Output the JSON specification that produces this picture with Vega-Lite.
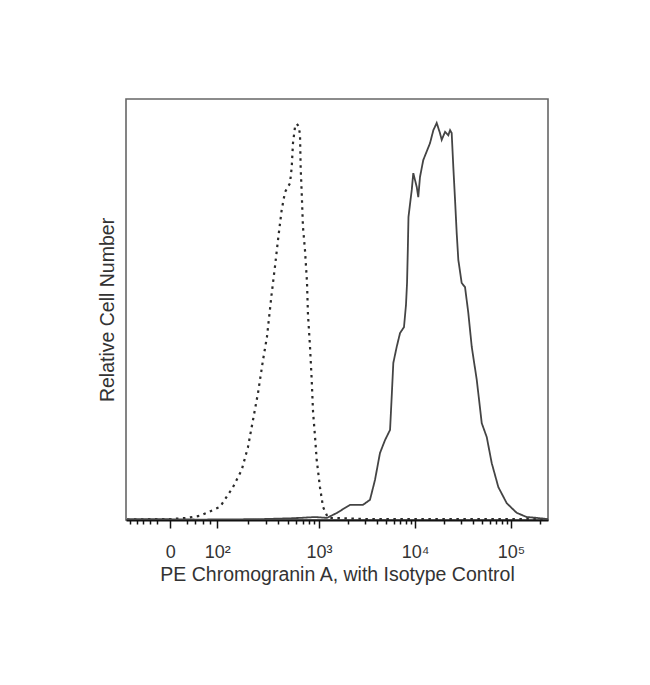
{
  "$schema": "https://vega.github.io/schema/vega-lite/v6.json",
  "autosize": "none",
  "padding": {"left": 126, "top": 99, "right": 102, "bottom": 165},
  "width": 422,
  "height": 421,
  "background": "white",
  "config": {
    "view": {"stroke": "#666", "strokeWidth": 1.6},
    "font": "Liberation Sans"
  },
  "data": {"values": [
    {"series": "Isotype Control", "u": 1.0, "count": 0.1},
    {"series": "Isotype Control", "u": 1.24, "count": 0.2},
    {"series": "Isotype Control", "u": 1.448, "count": 0.2},
    {"series": "Isotype Control", "u": 1.622, "count": 0.5},
    {"series": "Isotype Control", "u": 1.76, "count": 1.0},
    {"series": "Isotype Control", "u": 1.969, "count": 3.1},
    {"series": "Isotype Control", "u": 2.104, "count": 7.8},
    {"series": "Isotype Control", "u": 2.195, "count": 11.9},
    {"series": "Isotype Control", "u": 2.26, "count": 17.3},
    {"series": "Isotype Control", "u": 2.313, "count": 23.8},
    {"series": "Isotype Control", "u": 2.365, "count": 30.2},
    {"series": "Isotype Control", "u": 2.417, "count": 38.0},
    {"series": "Isotype Control", "u": 2.458, "count": 43.5},
    {"series": "Isotype Control", "u": 2.507, "count": 53.7},
    {"series": "Isotype Control", "u": 2.542, "count": 60.3},
    {"series": "Isotype Control", "u": 2.573, "count": 66.5},
    {"series": "Isotype Control", "u": 2.611, "count": 73.6},
    {"series": "Isotype Control", "u": 2.646, "count": 77.9},
    {"series": "Isotype Control", "u": 2.698, "count": 80.0},
    {"series": "Isotype Control", "u": 2.716, "count": 83.8},
    {"series": "Isotype Control", "u": 2.729, "count": 89.5},
    {"series": "Isotype Control", "u": 2.75, "count": 93.3},
    {"series": "Isotype Control", "u": 2.768, "count": 94.1},
    {"series": "Isotype Control", "u": 2.786, "count": 93.6},
    {"series": "Isotype Control", "u": 2.802, "count": 91.7},
    {"series": "Isotype Control", "u": 2.809, "count": 83.8},
    {"series": "Isotype Control", "u": 2.82, "count": 77.7},
    {"series": "Isotype Control", "u": 2.833, "count": 69.6},
    {"series": "Isotype Control", "u": 2.854, "count": 64.1},
    {"series": "Isotype Control", "u": 2.875, "count": 56.5},
    {"series": "Isotype Control", "u": 2.885, "count": 48.9},
    {"series": "Isotype Control", "u": 2.906, "count": 41.3},
    {"series": "Isotype Control", "u": 2.924, "count": 33.3},
    {"series": "Isotype Control", "u": 2.938, "count": 25.7},
    {"series": "Isotype Control", "u": 2.958, "count": 20.0},
    {"series": "Isotype Control", "u": 2.976, "count": 14.3},
    {"series": "Isotype Control", "u": 3.01, "count": 7.8},
    {"series": "Isotype Control", "u": 3.042, "count": 3.1},
    {"series": "Isotype Control", "u": 3.094, "count": 0.5},
    {"series": "Isotype Control", "u": 3.27, "count": 0.4},
    {"series": "Isotype Control", "u": 3.53, "count": 0.2},
    {"series": "Isotype Control", "u": 4.156, "count": 0.2},
    {"series": "Isotype Control", "u": 5.302, "count": 0.2},
    {"series": "Isotype Control", "u": 5.385, "count": 0.1},
    {"series": "Chromogranin A", "u": 1.0, "count": 0.2},
    {"series": "Chromogranin A", "u": 1.344, "count": 0.2},
    {"series": "Chromogranin A", "u": 1.76, "count": 0.1},
    {"series": "Chromogranin A", "u": 2.385, "count": 0.2},
    {"series": "Chromogranin A", "u": 2.698, "count": 0.4},
    {"series": "Chromogranin A", "u": 2.802, "count": 0.5},
    {"series": "Chromogranin A", "u": 2.958, "count": 0.7},
    {"series": "Chromogranin A", "u": 3.083, "count": 0.5},
    {"series": "Chromogranin A", "u": 3.188, "count": 1.7},
    {"series": "Chromogranin A", "u": 3.323, "count": 3.6},
    {"series": "Chromogranin A", "u": 3.458, "count": 3.6},
    {"series": "Chromogranin A", "u": 3.531, "count": 4.8},
    {"series": "Chromogranin A", "u": 3.583, "count": 9.5},
    {"series": "Chromogranin A", "u": 3.635, "count": 15.9},
    {"series": "Chromogranin A", "u": 3.688, "count": 19.0},
    {"series": "Chromogranin A", "u": 3.74, "count": 21.4},
    {"series": "Chromogranin A", "u": 3.757, "count": 29.2},
    {"series": "Chromogranin A", "u": 3.774, "count": 37.3},
    {"series": "Chromogranin A", "u": 3.809, "count": 41.1},
    {"series": "Chromogranin A", "u": 3.844, "count": 44.4},
    {"series": "Chromogranin A", "u": 3.885, "count": 45.8},
    {"series": "Chromogranin A", "u": 3.906, "count": 51.1},
    {"series": "Chromogranin A", "u": 3.917, "count": 56.3},
    {"series": "Chromogranin A", "u": 3.925, "count": 64.1},
    {"series": "Chromogranin A", "u": 3.932, "count": 72.0},
    {"series": "Chromogranin A", "u": 3.966, "count": 78.4},
    {"series": "Chromogranin A", "u": 3.982, "count": 82.4},
    {"series": "Chromogranin A", "u": 4.018, "count": 79.1},
    {"series": "Chromogranin A", "u": 4.034, "count": 76.7},
    {"series": "Chromogranin A", "u": 4.052, "count": 81.5},
    {"series": "Chromogranin A", "u": 4.086, "count": 85.5},
    {"series": "Chromogranin A", "u": 4.156, "count": 89.5},
    {"series": "Chromogranin A", "u": 4.191, "count": 92.6},
    {"series": "Chromogranin A", "u": 4.226, "count": 94.3},
    {"series": "Chromogranin A", "u": 4.26, "count": 91.9},
    {"series": "Chromogranin A", "u": 4.278, "count": 90.3},
    {"series": "Chromogranin A", "u": 4.313, "count": 92.2},
    {"series": "Chromogranin A", "u": 4.347, "count": 91.4},
    {"series": "Chromogranin A", "u": 4.365, "count": 92.6},
    {"series": "Chromogranin A", "u": 4.382, "count": 91.9},
    {"series": "Chromogranin A", "u": 4.399, "count": 83.8},
    {"series": "Chromogranin A", "u": 4.417, "count": 76.0},
    {"series": "Chromogranin A", "u": 4.434, "count": 68.2},
    {"series": "Chromogranin A", "u": 4.451, "count": 61.8},
    {"series": "Chromogranin A", "u": 4.486, "count": 56.3},
    {"series": "Chromogranin A", "u": 4.521, "count": 55.3},
    {"series": "Chromogranin A", "u": 4.555, "count": 49.2},
    {"series": "Chromogranin A", "u": 4.591, "count": 41.1},
    {"series": "Chromogranin A", "u": 4.643, "count": 33.3},
    {"series": "Chromogranin A", "u": 4.695, "count": 23.0},
    {"series": "Chromogranin A", "u": 4.747, "count": 19.7},
    {"series": "Chromogranin A", "u": 4.799, "count": 13.5},
    {"series": "Chromogranin A", "u": 4.868, "count": 7.8},
    {"series": "Chromogranin A", "u": 4.955, "count": 4.0},
    {"series": "Chromogranin A", "u": 5.059, "count": 1.7},
    {"series": "Chromogranin A", "u": 5.164, "count": 0.7},
    {"series": "Chromogranin A", "u": 5.268, "count": 0.5},
    {"series": "Chromogranin A", "u": 5.385, "count": 0.2}
  ]},
  "mark": {"type": "line", "interpolate": "linear", "clip": true},
  "encoding": {
    "x": {
      "field": "u", "type": "quantitative",
      "scale": {"domain": [0.99, 5.385], "zero": false, "nice": false},
      "axis": {
        "title": "PE Chromogranin A, with Isotype Control",
        "values": [1.03, 1.1, 1.17, 1.24, 1.31, 1.45, 1.625, 1.71, 1.79, 1.865, 1.94, 2.257, 2.444, 2.577, 2.68, 2.764, 2.835, 2.897, 2.951, 3, 3.301, 3.477, 3.602, 3.699, 3.778, 3.845, 3.903, 3.954, 4, 4.301, 4.477, 4.602, 4.699, 4.778, 4.845, 4.903, 4.954, 5, 5.301],
        "labelExpr": "datum.value == 1.45 ? '0' : datum.value == 1.94 ? '10²' : datum.value == 3 ? '10³' : datum.value == 4 ? '10⁴' : datum.value == 5 ? '10⁵' : ''",
        "labelOverlap": false,
        "labelFlush": false,
        "labelFontSize": 18,
        "labelColor": "#333",
        "labelPadding": 15,
        "tickColor": "#111",
        "tickWidth": 1.5,
        "tickSize": {"condition": {"test": "indexof([1.45, 1.94, 3, 4, 5], datum.value) >= 0", "value": 8}, "value": 4},
        "domainColor": "#111",
        "domainWidth": 2,
        "grid": false,
        "titleFontSize": 19.5,
        "titleFontWeight": "normal",
        "titleColor": "#333",
        "titlePadding": 4
      }
    },
    "y": {
      "field": "count", "type": "quantitative",
      "scale": {"domain": [0, 100], "nice": false},
      "axis": {
        "title": "Relative Cell Number",
        "domain": false, "ticks": false, "labels": false, "grid": false,
        "titleFontSize": 19.5,
        "titleFontWeight": "normal",
        "titleColor": "#333",
        "titlePadding": 9
      }
    },
    "strokeDash": {
      "field": "series", "type": "nominal",
      "scale": {"domain": ["Chromogranin A", "Isotype Control"], "range": [[1, 0], [2.5, 4.5]]},
      "legend": null
    },
    "color": {
      "field": "series", "type": "nominal",
      "scale": {"domain": ["Chromogranin A", "Isotype Control"], "range": ["#444", "#2a2a2a"]},
      "legend": null
    },
    "strokeWidth": {
      "field": "series", "type": "nominal",
      "scale": {"domain": ["Chromogranin A", "Isotype Control"], "range": [1.8, 2.2]},
      "legend": null
    }
  }
}
